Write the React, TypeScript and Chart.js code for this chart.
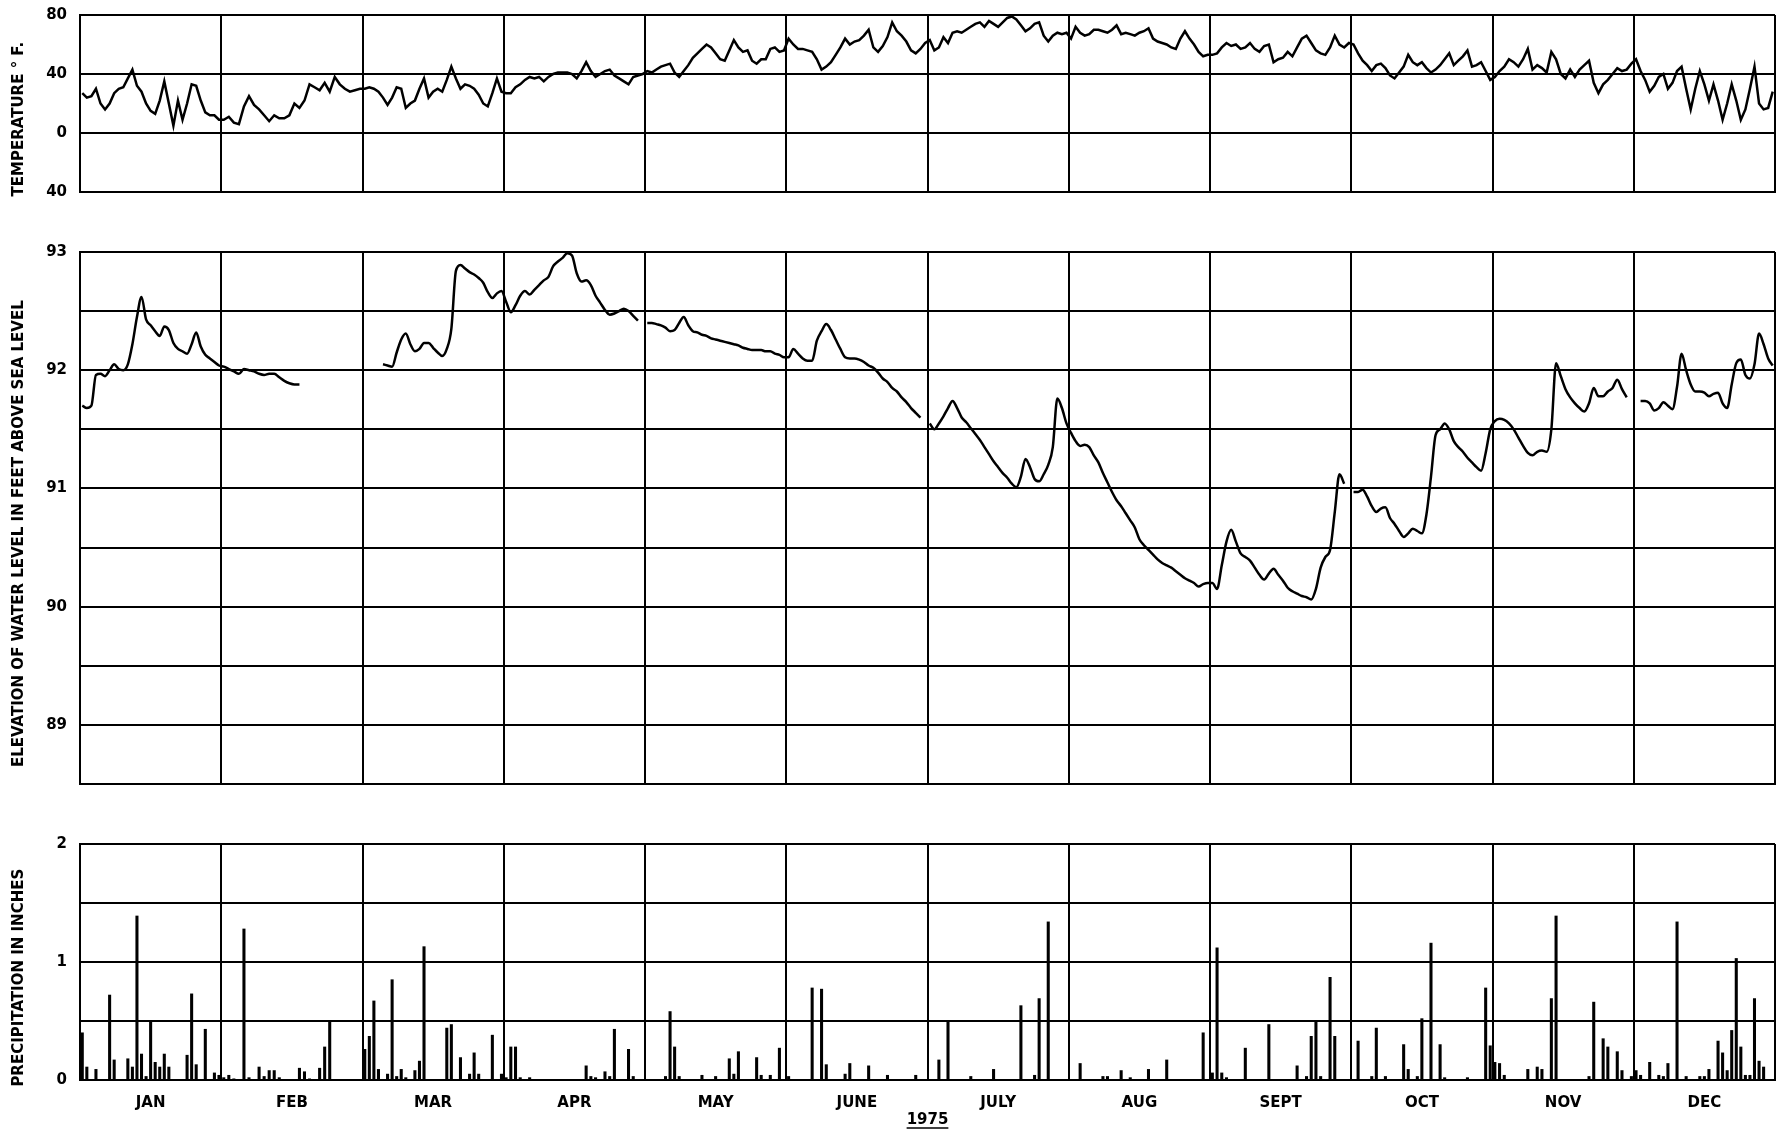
import React, { useEffect, useRef } from "react";
import { Chart, registerables } from "chart.js";

Chart.register(...registerables);

// ---------- categories / tick labels ----------
const MONTHS = ["JAN", "FEB", "MAR", "APR", "MAY", "JUNE", "JULY", "AUG", "SEPT", "OCT", "NOV", "DEC"];
const YEAR = "1975";

const TEMP_TITLE = "TEMPERATURE \u00B0 F.";
const TEMP_TICKS = [-40, 0, 40, 80];
const TEMP_TICK_LABELS = ["40", "0", "40", "80"];

const LEVEL_TITLE = "ELEVATION OF WATER LEVEL IN FEET ABOVE SEA LEVEL";
const LEVEL_TICKS = [88.5, 89, 89.5, 90, 90.5, 91, 91.5, 92, 92.5, 93];
const LEVEL_TICK_LABELS = ["", "89", "", "90", "", "91", "", "92", "", "93"];

const PRECIP_TITLE = "PRECIPITATION IN INCHES";
const PRECIP_TICKS = [0, 0.5, 1, 1.5, 2];
const PRECIP_TICK_LABELS = ["0", "", "1", "", "2"];

// ---------- daily temperature (deg F), one list per month ----------
const TEMP_F: number[][] = [
  [27, 24, 25, 30, 20, 16, 20, 27, 30, 31, 37, 43, 32, 28, 20, 15, 13, 22, 35, 20, 5, 22, 9, 20, 33, 32, 22, 14, 12, 12, 9],
  [9, 11, 7, 6, 18, 25, 19, 16, 12, 8, 12, 10, 10, 12, 20, 17, 22, 33, 31, 29, 34, 28, 38, 33, 30, 28, 29, 30],
  [30, 31, 30, 28, 24, 19, 24, 31, 30, 17, 20, 22, 30, 37, 24, 28, 30, 28, 36, 45, 37, 30, 33, 32, 30, 26, 20, 18, 27, 37, 28],
  [27, 27, 31, 33, 36, 38, 37, 38, 35, 38, 40, 41, 41, 41, 40, 37, 42, 48, 42, 38, 40, 42, 43, 39, 37, 35, 33, 38, 39, 40],
  [42, 41, 43, 45, 46, 47, 41, 38, 42, 46, 51, 54, 57, 60, 58, 54, 50, 49, 56, 63, 58, 55, 56, 49, 47, 50, 50, 57, 58, 55, 56],
  [64, 60, 57, 57, 56, 55, 50, 43, 45, 48, 53, 58, 64, 60, 62, 63, 66, 70, 58, 55, 59, 65, 75, 69, 66, 62, 56, 54, 57, 61],
  [63, 56, 58, 65, 61, 68, 69, 68, 70, 72, 74, 75, 72, 76, 74, 72, 75, 78, 79, 77, 73, 69, 71, 74, 75, 66, 62, 66, 68, 67, 68],
  [64, 72, 68, 66, 67, 70, 70, 69, 68, 70, 73, 67, 68, 67, 66, 68, 69, 71, 64, 62, 61, 60, 58, 57, 64, 69, 64, 60, 55, 52, 53],
  [53, 54, 58, 61, 59, 60, 57, 58, 61, 57, 55, 59, 60, 48, 50, 51, 55, 52, 58, 64, 66, 61, 56, 54, 53, 58, 66, 60, 58, 61],
  [60, 54, 49, 46, 42, 46, 47, 44, 39, 37, 41, 45, 53, 48, 46, 48, 44, 41, 43, 46, 50, 54, 46, 49, 52, 56, 45, 46, 48, 42, 36],
  [38, 42, 45, 50, 48, 45, 50, 57, 43, 46, 44, 41, 55, 50, 40, 37, 43, 38, 43, 46, 49, 34, 27, 33, 36, 40, 44, 42, 43, 47],
  [50, 42, 36, 28, 32, 38, 40, 30, 34, 42, 45, 30, 16, 30, 42, 33, 22, 33, 22, 9, 20, 33, 22, 9, 16, 30, 45, 20, 16, 17, 28],
];

// ---------- daily water level (ft above sea level), null = no record ----------
const N = null;
const WATER_LEVEL: (number | null)[][] = [
  [91.70, 91.68, 91.70, 91.96, 91.97, 91.95, 92.00, 92.05, 92.01, 92.00, 92.05, 92.22, 92.45, 92.62, 92.43, 92.38, 92.33, 92.29, 92.37, 92.34, 92.23, 92.18, 92.16, 92.14, 92.22, 92.32, 92.20, 92.13, 92.10, 92.07, 92.04],
  [92.03, 92.01, 91.99, 91.97, 92.01, 92.00, 91.99, 91.97, 91.96, 91.97, 91.97, 91.94, 91.91, 91.89, 91.88, 91.88, N, N, N, N, N, N, N, N, N, N, N, N],
  [N, N, N, N, 92.05, 92.04, 92.03, 92.15, 92.26, 92.31, 92.22, 92.16, 92.18, 92.23, 92.23, 92.19, 92.15, 92.12, 92.18, 92.35, 92.84, 92.89, 92.86, 92.83, 92.81, 92.78, 92.74, 92.66, 92.61, 92.65, 92.67],
  [92.58, 92.49, 92.55, 92.63, 92.67, 92.64, 92.68, 92.72, 92.76, 92.79, 92.88, 92.92, 92.95, 92.99, 92.97, 92.82, 92.75, 92.76, 92.72, 92.63, 92.57, 92.51, 92.47, 92.48, 92.50, 92.52, 92.50, 92.46, 92.42, N],
  [92.40, 92.40, 92.39, 92.38, 92.36, 92.33, 92.34, 92.40, 92.45, 92.38, 92.33, 92.32, 92.30, 92.29, 92.27, 92.26, 92.25, 92.24, 92.23, 92.22, 92.21, 92.19, 92.18, 92.17, 92.17, 92.17, 92.16, 92.16, 92.14, 92.13, 92.11],
  [92.11, 92.18, 92.14, 92.10, 92.08, 92.08, 92.25, 92.33, 92.39, 92.34, 92.26, 92.18, 92.11, 92.10, 92.10, 92.09, 92.07, 92.04, 92.02, 91.98, 91.93, 91.90, 91.85, 91.82, 91.77, 91.73, 91.68, 91.64, 91.60, N],
  [91.55, 91.50, 91.55, 91.61, 91.68, 91.74, 91.68, 91.60, 91.56, 91.51, 91.46, 91.41, 91.35, 91.29, 91.23, 91.18, 91.13, 91.09, 91.04, 91.01, 91.10, 91.25, 91.18, 91.08, 91.06, 91.12, 91.20, 91.35, 91.76, 91.68, 91.55],
  [91.47, 91.40, 91.36, 91.37, 91.35, 91.28, 91.22, 91.13, 91.05, 90.97, 90.90, 90.85, 90.79, 90.73, 90.67, 90.57, 90.52, 90.48, 90.44, 90.40, 90.37, 90.35, 90.33, 90.30, 90.27, 90.24, 90.22, 90.20, 90.17, 90.19, 90.20],
  [90.20, 90.15, 90.35, 90.55, 90.65, 90.55, 90.45, 90.42, 90.39, 90.33, 90.27, 90.23, 90.28, 90.32, 90.27, 90.22, 90.16, 90.13, 90.11, 90.09, 90.08, 90.06, 90.15, 90.33, 90.42, 90.48, 90.80, 91.12, 91.04, N],
  [90.97, 90.97, 90.99, 90.93, 90.85, 90.80, 90.83, 90.84, 90.75, 90.70, 90.64, 90.59, 90.62, 90.66, 90.64, 90.62, 90.78, 91.10, 91.45, 91.50, 91.55, 91.50, 91.40, 91.35, 91.31, 91.26, 91.22, 91.18, 91.15, 91.30, 91.50],
  [91.57, 91.59, 91.58, 91.55, 91.50, 91.43, 91.36, 91.30, 91.28, 91.31, 91.32, 91.31, 91.50, 92.06, 91.95, 91.84, 91.77, 91.72, 91.68, 91.65, 91.72, 91.85, 91.78, 91.78, 91.82, 91.85, 91.92, 91.84, 91.77, N],
  [N, 91.74, 91.74, 91.72, 91.66, 91.68, 91.73, 91.70, 91.67, 91.86, 92.14, 92.00, 91.88, 91.82, 91.82, 91.81, 91.78, 91.80, 91.81, 91.72, 91.68, 91.88, 92.06, 92.09, 91.96, 91.93, 92.05, 92.31, 92.22, 92.10, 92.04],
];

// ---------- daily precipitation (inches) ----------
const PRECIP_IN: number[][] = [
  [0.40, 0.11, 0, 0.09, 0, 0, 0.72, 0.17, 0, 0, 0.18, 0.11, 1.39, 0.22, 0.03, 0.49, 0.15, 0.11, 0.22, 0.11, 0, 0, 0, 0.21, 0.73, 0.13, 0, 0.43, 0, 0.06, 0.04],
  [0.02, 0.04, 0.01, 0, 1.28, 0.02, 0, 0.11, 0.03, 0.08, 0.08, 0.02, 0, 0, 0, 0.10, 0.07, 0.01, 0, 0.10, 0.28, 0.49, 0, 0, 0, 0, 0, 0],
  [0.26, 0.37, 0.67, 0.09, 0, 0.05, 0.85, 0.03, 0.09, 0.02, 0, 0.08, 0.16, 1.13, 0, 0, 0, 0, 0.44, 0.47, 0, 0.19, 0, 0.05, 0.23, 0.05, 0, 0, 0.38, 0, 0.05],
  [0.02, 0.28, 0.28, 0.02, 0, 0.02, 0, 0, 0, 0, 0, 0, 0, 0, 0, 0, 0, 0.12, 0.03, 0.02, 0, 0.07, 0.03, 0.43, 0, 0, 0.26, 0.03, 0, 0],
  [0, 0, 0, 0, 0.03, 0.58, 0.28, 0.03, 0, 0, 0, 0, 0.04, 0, 0, 0.03, 0, 0, 0.18, 0.05, 0.24, 0, 0, 0, 0.19, 0.04, 0, 0.04, 0, 0.27, 0],
  [0.03, 0, 0, 0, 0, 0.78, 0, 0.77, 0.13, 0, 0, 0, 0.05, 0.14, 0, 0, 0, 0.12, 0, 0, 0, 0.04, 0, 0, 0, 0, 0, 0.04, 0, 0],
  [0, 0, 0.17, 0, 0.49, 0, 0, 0, 0, 0.03, 0, 0, 0, 0, 0.09, 0, 0, 0, 0, 0, 0.63, 0, 0, 0.04, 0.69, 0, 1.34, 0, 0, 0, 0],
  [0, 0, 0.14, 0, 0, 0, 0, 0.03, 0.03, 0, 0, 0.08, 0, 0.02, 0, 0, 0, 0.09, 0, 0, 0, 0.17, 0, 0, 0, 0, 0, 0, 0, 0.40, 0],
  [0.06, 1.12, 0.06, 0.02, 0, 0, 0, 0.27, 0, 0, 0, 0, 0.47, 0, 0, 0, 0, 0, 0.12, 0, 0.03, 0.37, 0.50, 0.03, 0, 0.87, 0.37, 0, 0, 0],
  [0, 0.33, 0, 0, 0.03, 0.44, 0, 0.03, 0, 0, 0, 0.30, 0.09, 0, 0.03, 0.52, 0, 1.16, 0, 0.30, 0.02, 0, 0, 0, 0, 0.02, 0, 0, 0, 0.78, 0.29],
  [0.15, 0.14, 0.04, 0, 0, 0, 0, 0.09, 0, 0.11, 0.09, 0, 0.69, 1.39, 0, 0, 0, 0, 0, 0, 0.03, 0.66, 0, 0.35, 0.28, 0, 0.24, 0.08, 0, 0.03],
  [0.08, 0.04, 0, 0.15, 0, 0.04, 0.03, 0.14, 0, 1.34, 0, 0.03, 0, 0, 0.03, 0.03, 0.09, 0, 0.33, 0.23, 0.08, 0.42, 1.03, 0.28, 0.04, 0.04, 0.69, 0.16, 0.11, 0, 0],
];

// ---------- helpers ----------
const INK = "#000";
const FONT = { family: '"DejaVu Sans", sans-serif', size: 15, weight: "bold" as const };
const W = 1786;
// the vertical axis titles sit a little below the middle of each panel in the original
const TITLE_SHIFT = "      ";
// Chart.js keeps (half label height + tick padding) = 22px above/below a vertical axis
const EDGE = 22;

// month index + fraction of that month (months drawn equal width, as in the original)
function toPoints(monthly: (number | null)[][], skipZero = false) {
  const pts: { x: number; y: number | null }[] = [];
  monthly.forEach((days, m) => {
    days.forEach((v, d) => {
      if (skipZero && !v) return;
      pts.push({ x: m + (d + 0.5) / days.length, y: v });
    });
  });
  return pts;
}

function xGridAxis() {
  return {
    type: "linear",
    position: "bottom",
    min: 0,
    max: 12,
    offset: false,
    afterBuildTicks: (s: any) => {
      s.ticks = [...MONTHS.map((_, i) => ({ value: i })), { value: 12 }];
    },
    ticks: { display: false },
    grid: { color: INK, lineWidth: 2, drawTicks: false, offset: false },
    border: { display: true, color: INK, width: 2 },
    afterFit: (s: any) => {
      s.height = 0;
    },
  };
}

function yAxis(min: number, max: number, ticks: number[], labels: string[], title: string) {
  return {
    type: "linear",
    position: "left",
    min,
    max,
    afterBuildTicks: (s: any) => {
      s.ticks = ticks.map((v) => ({ value: v }));
    },
    ticks: {
      autoSkip: false,
      color: INK,
      font: FONT,
      padding: 13,
      callback: (_v: any, i: number) => labels[i],
    },
    grid: { color: INK, lineWidth: 2, drawTicks: false },
    border: { color: INK, width: 2 },
    title: {
      display: true,
      text: title + TITLE_SHIFT,
      color: INK,
      font: FONT,
      padding: { top: 10, bottom: 0 },
    },
    afterFit: (s: any) => {
      s.width = 80;
    },
  };
}

const underlinePlugin = {
  id: "yearUnderline",
  afterDraw(chart: any) {
    const s = chart.scales.xl;
    if (!s) return;
    const ctx = chart.ctx;
    ctx.save();
    ctx.font = `bold ${FONT.size}px ${FONT.family}`;
    const w = ctx.measureText(YEAR).width;
    const cx = (s.left + s.right) / 2;
    const y = s.bottom - 2;
    ctx.strokeStyle = INK;
    ctx.lineWidth = 1.5;
    ctx.beginPath();
    ctx.moveTo(cx - w / 2, y);
    ctx.lineTo(cx + w / 2, y);
    ctx.stroke();
    ctx.restore();
  },
};

const basePlugins = { legend: { display: false }, tooltip: { enabled: false } };

function tempConfig(): any {
  return {
    type: "line",
    data: {
      datasets: [
        {
          data: toPoints(TEMP_F),
          borderColor: INK,
          borderWidth: 2.5,
          pointRadius: 0,
          tension: 0,
        },
      ],
    },
    options: {
      responsive: false,
      animation: false,
      devicePixelRatio: 1,
      layout: { padding: { top: 0, bottom: 0, left: 0, right: 11 } },
      plugins: basePlugins,
      scales: {
        x: xGridAxis(),
        y: yAxis(-40, 80, TEMP_TICKS, TEMP_TICK_LABELS, TEMP_TITLE),
      },
    },
  };
}

function levelConfig(): any {
  return {
    type: "line",
    data: {
      datasets: [
        {
          data: toPoints(WATER_LEVEL),
          borderColor: INK,
          borderWidth: 2.5,
          pointRadius: 0,
          cubicInterpolationMode: "monotone",
          spanGaps: false,
        },
      ],
    },
    options: {
      responsive: false,
      animation: false,
      devicePixelRatio: 1,
      layout: { padding: { top: 0, bottom: 0, left: 0, right: 11 } },
      plugins: basePlugins,
      scales: {
        x: xGridAxis(),
        y: yAxis(88.5, 93, LEVEL_TICKS, LEVEL_TICK_LABELS, LEVEL_TITLE),
      },
    },
  };
}

function precipConfig(): any {
  return {
    type: "bar",
    data: {
      datasets: [
        {
          data: toPoints(PRECIP_IN, true),
          backgroundColor: INK,
          borderWidth: 0,
          barThickness: 2.4,
          grouped: false,
        },
      ],
    },
    options: {
      responsive: false,
      animation: false,
      devicePixelRatio: 1,
      layout: { padding: { top: 0, bottom: 0, left: 0, right: 11 } },
      plugins: basePlugins,
      scales: {
        x: xGridAxis(),
        xl: {
          type: "linear",
          position: "bottom",
          min: 0,
          max: 12,
          offset: false,
          afterBuildTicks: (s: any) => {
            s.ticks = MONTHS.map((_, i) => ({ value: i + 0.5 }));
          },
          ticks: {
            autoSkip: false,
            maxRotation: 0,
            color: INK,
            font: FONT,
            padding: 14,
            callback: (_v: any, i: number) => MONTHS[i],
          },
          grid: { display: false, drawTicks: false, offset: false },
          border: { display: false },
          title: { display: true, text: YEAR, color: INK, font: FONT, padding: { top: 0, bottom: 1 } },
          afterFit: (s: any) => {
            s.height = 50;
          },
        },
        y: yAxis(0, 2, PRECIP_TICKS, PRECIP_TICK_LABELS, PRECIP_TITLE),
      },
    },
    plugins: [underlinePlugin],
  };
}

function ChartBox({ top, height, build }: { top: number; height: number; build: () => any }) {
  const ref = useRef<HTMLCanvasElement | null>(null);
  useEffect(() => {
    if (!ref.current) return;
    const chart = new Chart(ref.current, build());
    return () => chart.destroy();
  }, []);
  return (
    <canvas
      ref={ref}
      width={W}
      height={height}
      style={{ position: "absolute", left: 0, top, width: W, height, display: "block" }}
    />
  );
}

// plot areas: temperature 15..192, water level 252..784, precipitation 844..1080
export default function App() {
  return (
    <div
      style={{
        position: "fixed",
        left: 0,
        top: 0,
        width: W,
        height: 1130,
        background: "#fff",
        overflow: "hidden",
      }}
    >
      <ChartBox top={15 - EDGE} height={177 + 2 * EDGE} build={tempConfig} />
      <ChartBox top={252 - EDGE} height={532 + 2 * EDGE} build={levelConfig} />
      <ChartBox top={844 - EDGE} height={1130 - (844 - EDGE)} build={precipConfig} />
    </div>
  );
}
